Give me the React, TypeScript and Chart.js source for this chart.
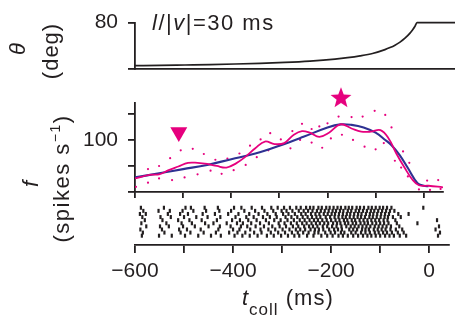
import React, { useEffect, useRef } from "react";
import { Chart, registerables } from "chart.js";

Chart.register(...registerables);

// ---------- data ----------
const xTicks = [-600, -500, -400, -300, -200, -100, 0];
const xTickLabels = ["−600", "", "−400", "", "−200", "", "0"];

const thetaTicks = [0, 40, 80];
const thetaTickLabels = ["", "", "80"];
const thetaTimes = [-600, -550, -500, -450, -400, -350, -300, -250, -200, -175, -150, -125, -100, -90, -80, -70, -60, -50, -45, -40, -36, 0, 40];
const thetaDeg = [5.7, 6.2, 6.9, 7.6, 8.6, 9.8, 11.4, 13.7, 17.1, 19.5, 22.6, 26.7, 33.4, 36.9, 41.1, 46.4, 53.1, 61.9, 67.4, 73.7, 80, 80, 80];

const rateTicks = [0, 50, 100, 150];
const rateTickLabels = ["", "", "100", ""];

const psthTimes = [-600, -570, -550, -530, -510, -490, -470, -450, -430, -410, -390, -370, -350, -330, -310, -290, -270, -253, -237, -217, -197, -173, -150, -130, -110, -90, -73, -57, -40, -23, -10, 10, 40];
const psthRate = [26, 33, 34, 42, 49, 56, 56, 54, 50, 47, 55, 68, 84, 97, 92, 94, 110, 117, 114, 106, 114, 130, 122, 116, 116, 119, 103, 74, 47, 23, 13, 12, 9];

const fitTimes = [-600, -550, -500, -450, -400, -350, -300, -250, -200, -173, -150, -125, -100, -80, -67, -50, -33, -13, 0, 10];
const fitRate = [28, 36, 44, 52, 63, 74, 89, 106, 124, 130, 129, 124, 114, 100, 90, 71, 46, 17, 12, 11];

const upperTimes = [-573, -550, -527, -505, -480, -457, -433, -408, -383, -361, -339, -319, -297, -273, -253, -233, -217, -200, -177, -150, -127, -102, -80, -67, -43, -30, 7, 30];
const upperRate = [44, 50, 65, 80, 83, 73, 62, 64, 74, 89, 101, 113, 101, 117, 131, 121, 126, 132, 145, 144, 145, 156, 148, 124, 78, 56, 22, 23];

const lowerTimes = [-598, -573, -550, -523, -497, -470, -443, -420, -395, -370, -347, -323, -300, -277, -257, -233, -211, -193, -170, -147, -123, -100, -83, -60, -47, -33, -10, 13, 35];
const lowerRate = [10, 18, 26, 23, 28, 34, 41, 35, 42, 52, 67, 80, 90, 84, 100, 95, 85, 103, 110, 100, 87, 82, 94, 60, 47, 30, 5, 4, 6];

const triangleMark = { t: -509, rate: 115 };
const starMark = { t: -172, rate: 181.7 };

const trial1 = [-588, -541, -497, -486, -458, -431, -398, -383, -362, -341, -322, -309, -296, -284, -271, -262, -251, -243, -236, -226, -219, -210, -203, -195, -187, -180, -171, -164, -157, -148, -141, -133, -124, -117, -109, -101, -94, -86, -77, -12];
const trial2 = [-583, -552, -529, -503, -481, -455, -428, -404, -377, -355, -336, -318, -301, -291, -279, -266, -256, -247, -238, -229, -221, -213, -205, -197, -190, -182, -175, -166, -159, -150, -143, -135, -127, -119, -112, -104, -96, -88, -80, -71];
const trial3 = [-590, -578, -533, -508, -492, -462, -437, -410, -389, -367, -348, -330, -313, -298, -287, -274, -261, -252, -241, -232, -224, -215, -207, -199, -192, -184, -176, -168, -161, -153, -145, -138, -129, -121, -114, -106, -98, -90, -82, -63, -42];
const trial4 = [-585, -548, -527, -500, -475, -452, -426, -395, -373, -358, -339, -325, -311, -293, -281, -269, -258, -248, -239, -230, -222, -211, -202, -193, -185, -177, -170, -162, -154, -146, -139, -131, -122, -115, -107, -99, -91, -84, -74, -58];
const trial5 = [-580, -544, -512, -489, -464, -433, -402, -386, -369, -352, -333, -316, -303, -289, -276, -264, -254, -244, -235, -227, -218, -209, -200, -191, -183, -174, -167, -158, -151, -142, -134, -126, -118, -110, -102, -93, -85, -69, 16];
const trial6 = [-587, -536, -505, -484, -457, -440, -413, -392, -380, -363, -345, -327, -307, -295, -282, -270, -259, -250, -240, -231, -223, -214, -206, -196, -188, -181, -172, -165, -156, -149, -140, -132, -125, -116, -108, -100, -92, -83, -66, -24];
const trial7 = [-577, -549, -531, -502, -478, -450, -427, -405, -384, -371, -354, -337, -320, -305, -292, -278, -267, -255, -245, -237, -228, -217, -208, -198, -189, -179, -169, -160, -152, -144, -136, -128, -120, -111, -103, -95, -87, -78, -61, 20];
const trial8 = [-589, -545, -510, -494, -466, -430, -400, -387, -365, -344, -328, -314, -299, -285, -272, -263, -253, -242, -233, -225, -216, -204, -194, -186, -178, -163, -155, -147, -137, -130, -123, -113, -105, -97, -89, -79, -68, -55, 13];
const trial9 = [-584, -540, -507, -487, -460, -435, -408, -391, -375, -357, -342, -323, -308, -294, -280, -268, -257, -246, -234, -226, -212, -201, -192, -180, -173, -159, -150, -139, -130, -121, -111, -103, -94, -86, -76, -64, -52, 22];
const trial10 = [-586, -551, -525, -498, -471, -445, -425, -397, -381, -366, -350, -331, -317, -302, -288, -275, -265, -249, -236, -220, -208, -197, -185, -176, -166, -155, -145, -135, -126, -118, -109, -100, -90, -81, -72, -60, -47, 18];
const trials = [trial1, trial2, trial3, trial4, trial5, trial6, trial7, trial8, trial9, trial10];

// ---------- style ----------
const MAGENTA = "#e6007e";
const BLUE = "#2e3192";
const INK = "#231f20";
const FAMILY = "'Liberation Sans', Arial, Helvetica, sans-serif";
const TICK_FONT = { family: FAMILY, size: 21 };

type Seg = { t: string; italic?: boolean; size?: number; dy?: number };
type TextItem = { segs: Seg[]; x: number; y: number; rotate?: boolean; center?: boolean; size: number; spacing?: number };

function drawItem(ctx: CanvasRenderingContext2D, it: TextItem) {
  ctx.save();
  ctx.translate(it.x, it.y);
  if (it.rotate) ctx.rotate(-Math.PI / 2);
  ctx.fillStyle = INK;
  ctx.textBaseline = "alphabetic";
  ctx.textAlign = "left";
  (ctx as any).letterSpacing = (it.spacing || 0) + "px";
  const fontOf = (s: Seg) => `${s.italic ? "italic " : ""}${s.size || it.size}px ${FAMILY}`;
  const widths = it.segs.map((s) => {
    ctx.font = fontOf(s);
    return ctx.measureText(s.t).width;
  });
  const total = widths.reduce((a, b) => a + b, 0);
  let cx = it.center ? -total / 2 : 0;
  it.segs.forEach((s, i) => {
    ctx.font = fontOf(s);
    ctx.fillText(s.t, cx, s.dy || 0);
    cx += widths[i];
  });
  ctx.restore();
}

function textPlugin(id: string, items: TextItem[]) {
  return {
    id,
    afterDraw(chart: any) {
      items.forEach((it) => drawItem(chart.ctx, it));
    },
  };
}

const pts = (xs: number[], ys: number[]) => xs.map((x, i) => ({ x, y: ys[i] }));

function makeStar(): HTMLCanvasElement {
  const c = document.createElement("canvas");
  c.width = 22;
  c.height = 21;
  const g = c.getContext("2d")!;
  const R = 11;
  const r = R * 0.42;
  const cx = 11;
  const cy = 11.3;
  g.beginPath();
  for (let i = 0; i < 10; i++) {
    const a = -Math.PI / 2 + (i * Math.PI) / 5;
    const rr = i % 2 === 0 ? R : r;
    const px = cx + rr * Math.cos(a);
    const py = cy + rr * Math.sin(a);
    if (i === 0) g.moveTo(px, py);
    else g.lineTo(px, py);
  }
  g.closePath();
  g.fillStyle = MAGENTA;
  g.fill();
  return c;
}

const noPlugins = { legend: { display: false }, tooltip: { enabled: false } };

export default function App() {
  const topRef = useRef<HTMLCanvasElement>(null);
  const midRef = useRef<HTMLCanvasElement>(null);
  const botRef = useRef<HTMLCanvasElement>(null);

  useEffect(() => {
    const setTicks = (vals: number[]) => (s: any) => {
      s.ticks = vals.map((v) => ({ value: v }));
    };

    const top = new Chart(topRef.current!, {
      type: "line",
      data: {
        datasets: [
          {
            data: pts(thetaTimes, thetaDeg),
            borderColor: INK,
            borderWidth: 1.7,
            pointRadius: 0,
            cubicInterpolationMode: "monotone",
            clip: 4,
          } as any,
        ],
      },
      options: {
        responsive: false,
        animation: false,
        events: [],
        layout: { padding: { top: 21, left: 0, right: 0, bottom: 0 } },
        plugins: noPlugins as any,
        scales: {
          x: {
            type: "linear",
            min: -600,
            max: 40,
            ticks: { display: false },
            grid: { display: false },
            border: { display: true, color: INK, width: 1.8 },
            afterFit: (s: any) => {
              s.height = 31;
            },
          } as any,
          y: {
            type: "linear",
            min: 0,
            max: 80,
            afterBuildTicks: setTicks(thetaTicks),
            ticks: {
              callback: (_v: any, i: number) => thetaTickLabels[i],
              font: TICK_FONT,
              color: INK,
              padding: 10,
            },
            grid: { drawOnChartArea: false, tickLength: 7, color: INK, lineWidth: 1.8 },
            border: { display: true, color: INK, width: 1.8 },
            afterFit: (s: any) => {
              s.width = 135;
            },
          } as any,
        },
      },
      plugins: [
        textPlugin("topText", [
          { segs: [{ t: "l", italic: true }, { t: "/|" }, { t: "v", italic: true }, { t: "|=30 ms" }], x: 152, y: 30, size: 22, spacing: 1.5 },
          { segs: [{ t: "θ", italic: true }], x: 25, y: 49, rotate: true, center: true, size: 22 },
          { segs: [{ t: "(deg)" }], x: 58, y: 51, rotate: true, center: true, size: 22, spacing: 1 },
        ]),
      ],
    });

    const star = makeStar();
    const mid = new Chart(midRef.current!, {
      type: "line",
      data: {
        datasets: [
          {
            data: [{ x: triangleMark.t, y: triangleMark.rate }],
            showLine: false,
            pointStyle: "triangle",
            pointRotation: 180,
            pointRadius: 9.8,
            pointBackgroundColor: MAGENTA,
            pointBorderWidth: 0,
            clip: false,
          } as any,
          {
            data: [{ x: starMark.t, y: starMark.rate }],
            showLine: false,
            pointStyle: star,
            pointRadius: 11,
            clip: false,
          } as any,
          {
            data: pts(psthTimes, psthRate),
            borderColor: MAGENTA,
            borderWidth: 1.8,
            pointRadius: 0,
            tension: 0.4,
          } as any,
          {
            data: pts(fitTimes, fitRate),
            borderColor: BLUE,
            borderWidth: 2.1,
            pointRadius: 0,
            tension: 0.4,
          } as any,
          {
            data: pts(upperTimes, upperRate),
            showLine: false,
            pointRadius: 1.1,
            pointBackgroundColor: MAGENTA,
            pointBorderWidth: 0,
          } as any,
          {
            data: pts(lowerTimes, lowerRate),
            showLine: false,
            pointRadius: 1.1,
            pointBackgroundColor: MAGENTA,
            pointBorderWidth: 0,
          } as any,
        ],
      },
      options: {
        responsive: false,
        animation: false,
        events: [],
        layout: { padding: { top: 28, left: 0, right: 0, bottom: 0 } },
        plugins: noPlugins as any,
        scales: {
          x: {
            type: "linear",
            min: -600,
            max: 40,
            afterBuildTicks: setTicks(xTicks),
            ticks: { display: false },
            grid: { drawOnChartArea: false, tickLength: 6, color: INK, lineWidth: 1.8 },
            border: { display: true, color: INK, width: 1.8 },
            afterFit: (s: any) => {
              s.height = 63;
            },
          } as any,
          y: {
            type: "linear",
            min: 0,
            max: 171,
            afterBuildTicks: setTicks(rateTicks),
            ticks: {
              callback: (_v: any, i: number) => rateTickLabels[i],
              font: TICK_FONT,
              color: INK,
              padding: 10,
            },
            grid: { drawOnChartArea: false, tickLength: 7, color: INK, lineWidth: 1.8 },
            border: { display: true, color: INK, width: 1.8 },
            afterFit: (s: any) => {
              s.width = 135;
            },
          } as any,
        },
      },
      plugins: [
        textPlugin("midText", [
          { segs: [{ t: "f", italic: true }], x: 38, y: 109, rotate: true, center: true, size: 22 },
          { segs: [{ t: "(spikes s" }, { t: "−1", size: 14, dy: -9 }, { t: ")" }], x: 69, y: 103.5, rotate: true, center: true, size: 22, spacing: 1.5 },
        ]),
      ],
    });

    const rasterPoints: { x: number; y: number }[] = [];
    trials.forEach((row, i) => row.forEach((t) => rasterPoints.push({ x: t, y: i + 1 })));

    const bot = new Chart(botRef.current!, {
      type: "scatter",
      data: {
        datasets: [
          {
            data: rasterPoints,
            pointStyle: "line",
            pointRotation: 90,
            pointRadius: 2,
            pointBorderColor: INK,
            pointBorderWidth: 2.2,
            clip: false,
          } as any,
        ],
      },
      options: {
        responsive: false,
        animation: false,
        events: [],
        layout: { padding: { top: 5, left: 135, right: 0, bottom: 0 } },
        plugins: noPlugins as any,
        scales: {
          x: {
            type: "linear",
            min: -600,
            max: 40,
            afterBuildTicks: setTicks(xTicks),
            ticks: {
              callback: (_v: any, i: number) => xTickLabels[i],
              font: TICK_FONT,
              color: INK,
              padding: 6,
              autoSkip: false,
              maxRotation: 0,
            },
            grid: { drawOnChartArea: false, tickLength: 8, color: INK, lineWidth: 1.8 },
            border: { display: true, color: INK, width: 1.8 },
            afterFit: (s: any) => {
              s.height = 75;
            },
          } as any,
          y: {
            type: "linear",
            display: false,
            min: 0.5,
            max: 13,
            reverse: true,
          } as any,
        },
      },
      plugins: [
        textPlugin("botText", [
          { segs: [{ t: "t", italic: true }, { t: "coll", size: 17, dy: 10 }, { t: " (ms)" }], x: 242, y: 105, size: 22, spacing: 1 },
        ]),
      ],
    });

    return () => {
      top.destroy();
      mid.destroy();
      bot.destroy();
    };
  }, []);

  const abs = (t: number): React.CSSProperties => ({ position: "absolute", left: 0, top: t, display: "block" });

  return (
    <div style={{ position: "fixed", left: 0, top: 0, width: 455, height: 320, background: "#fff", overflow: "hidden" }}>
      <canvas ref={topRef} width={455} height={100} style={abs(0)} />
      <canvas ref={midRef} width={455} height={180} style={abs(75)} />
      <canvas ref={botRef} width={455} height={120} style={abs(200)} />
    </div>
  );
}
